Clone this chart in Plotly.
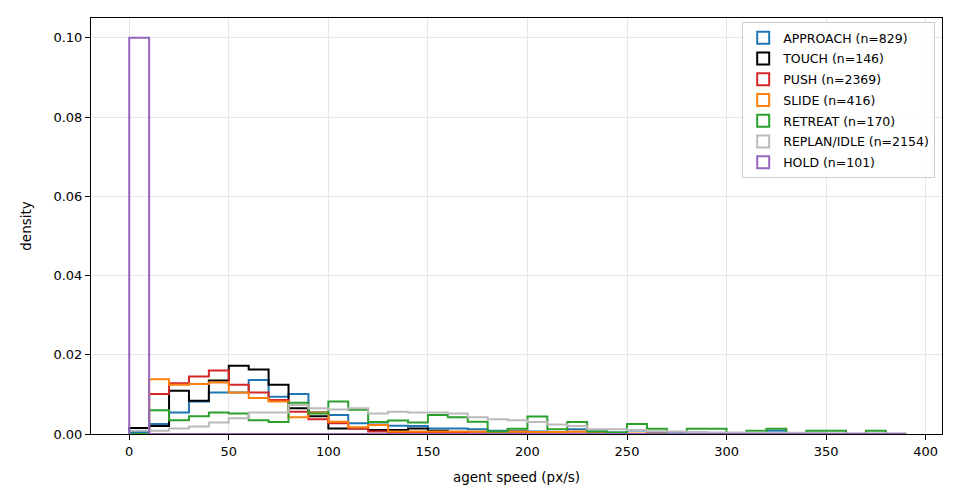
import plotly.graph_objects as go

# bin edges: 0..390 px/s, width 10
bin_width = 10
bin_edges = list(range(0, 400, bin_width))  # 0, 10, ..., 390

# densities per bin
approach = [0.0005, 0.0025, 0.0054, 0.0082, 0.0105, 0.0105, 0.0136, 0.0094, 0.0101, 0.0055,
            0.0048, 0.0027, 0.0024, 0.0021, 0.0020, 0.0014, 0.0014, 0.0012, 0.0008, 0.0008,
            0.0006, 0.0005, 0.0012, 0.0006, 0.0004, 0.0009, 0.0004, 0.0002, 0.0002, 0.0002,
            0.0001, 0.0002, 0.0008, 0.0002, 0.0001, 0.0, 0.0, 0.0, 0.0]
touch = [0.0015, 0.0020, 0.0109, 0.0084, 0.0135, 0.0172, 0.0163, 0.0124, 0.0065, 0.0045,
         0.0014, 0.0014, 0.0010, 0.0010, 0.0014, 0.0008, 0.0, 0.0, 0.0, 0.0,
         0.0, 0.0, 0.0, 0.0, 0.0, 0.0, 0.0, 0.0, 0.0, 0.0,
         0.0, 0.0, 0.0, 0.0, 0.0, 0.0, 0.0, 0.0, 0.0]
push = [0.0, 0.0101, 0.0128, 0.0145, 0.0160, 0.0124, 0.0105, 0.0086, 0.0056, 0.0037,
        0.0027, 0.0014, 0.0006, 0.0005, 0.0004, 0.0003, 0.0003, 0.0002, 0.0002, 0.0002,
        0.0004, 0.0002, 0.0001, 0.0001, 0.0001, 0.0, 0.0, 0.0, 0.0, 0.0,
        0.0, 0.0, 0.0, 0.0, 0.0, 0.0, 0.0, 0.0, 0.0]
slide = [0.0, 0.0138, 0.0124, 0.0126, 0.0130, 0.0105, 0.0091, 0.0082, 0.0042, 0.0054,
         0.0031, 0.0017, 0.0023, 0.0006, 0.0006, 0.0006, 0.0006, 0.0006, 0.0005, 0.0006,
         0.0005, 0.0005, 0.0006, 0.0002, 0.0002, 0.0001, 0.0001, 0.0, 0.0, 0.0,
         0.0, 0.0, 0.0, 0.0, 0.0, 0.0, 0.0, 0.0, 0.0]
retreat = [0.0, 0.0060, 0.0035, 0.0045, 0.0054, 0.0052, 0.0035, 0.0030, 0.0079, 0.0052,
           0.0082, 0.0061, 0.0030, 0.0034, 0.0029, 0.0048, 0.0042, 0.0031, 0.0006, 0.0013,
           0.0044, 0.0012, 0.0030, 0.0006, 0.0004, 0.0025, 0.0013, 0.0, 0.0013, 0.0013,
           0.0, 0.0008, 0.0013, 0.0, 0.0008, 0.0008, 0.0, 0.0008, 0.0]
replan = [0.0008, 0.0008, 0.0014, 0.0019, 0.0029, 0.0040, 0.0054, 0.0054, 0.0073, 0.0065,
          0.0062, 0.0065, 0.0052, 0.0056, 0.0054, 0.0054, 0.0052, 0.0042, 0.0037, 0.0035,
          0.0030, 0.0024, 0.0020, 0.0012, 0.0012, 0.0010, 0.0007, 0.0006, 0.0005, 0.0004,
          0.0004, 0.0003, 0.0003, 0.0003, 0.0002, 0.0002, 0.0002, 0.0002, 0.0002]
hold = [0.1000] + [0.0] * 38

labels = ["APPROACH (n=829)", "TOUCH (n=146)", "PUSH (n=2369)", "SLIDE (n=416)",
          "RETREAT (n=170)", "REPLAN/IDLE (n=2154)", "HOLD (n=101)"]
series = [approach, touch, push, slide, retreat, replan, hold]
colors = ["#1f77b4", "#000000", "#d62728", "#ff7f0e", "#2ca02c", "#bbbbbb", "#9467bd"]

fig = go.Figure()

last_edge = bin_edges[-1] + bin_width
for name, dens, col in zip(labels, series, colors):
    # step outline like matplotlib histtype="step"
    xs = [bin_edges[0]] + bin_edges + [last_edge]
    ys = [0] + dens + [0]
    fig.add_trace(go.Scatter(
        x=xs, y=ys, mode="lines", line=dict(color=col, width=2, shape="hv"),
        showlegend=False, hoverinfo="skip"))

# legend-only traces with outlined patch icons
for name, col in zip(labels, colors):
    fig.add_trace(go.Bar(
        x=[None], y=[None], name=name, legendgroup=name,
        marker=dict(color="rgba(255,255,255,0)", line=dict(color=col, width=2))))

axis_common = dict(
    showline=True, linecolor="black", linewidth=1, mirror=True,
    ticks="outside", ticklen=5, tickcolor="black", tickwidth=1,
    showgrid=True, gridcolor="#e6e6e6", gridwidth=1, zeroline=False,
    tickfont=dict(family="DejaVu Sans", size=13, color="black"),
)

# page body adds an 8px margin, so the figure is sized to fit inside it
fig.update_layout(
    width=944, height=488,
    margin=dict(l=83, r=10, t=10, b=62),
    paper_bgcolor="white", plot_bgcolor="white",
    font=dict(family="DejaVu Sans", color="black"),
    barmode="overlay",
    xaxis=dict(range=[-19.2, 408.2], tickvals=[0, 50, 100, 150, 200, 250, 300, 350, 400],
               title=dict(text="agent speed (px/s)", font=dict(size=13.5), standoff=14),
               **axis_common),
    yaxis=dict(range=[0, 0.105], tickvals=[0, 0.02, 0.04, 0.06, 0.08, 0.10],
               tickformat=".2f",
               title=dict(text="density", font=dict(size=13.5), standoff=18),
               **axis_common),
    legend=dict(x=0.992, y=0.99, xanchor="right", yanchor="top",
                bgcolor="rgba(255,255,255,0.8)", bordercolor="#cccccc", borderwidth=1,
                tracegroupgap=1.5, itemwidth=30,
                font=dict(family="DejaVu Sans", size=12.5)),
)

fig.write_html("out.html")
